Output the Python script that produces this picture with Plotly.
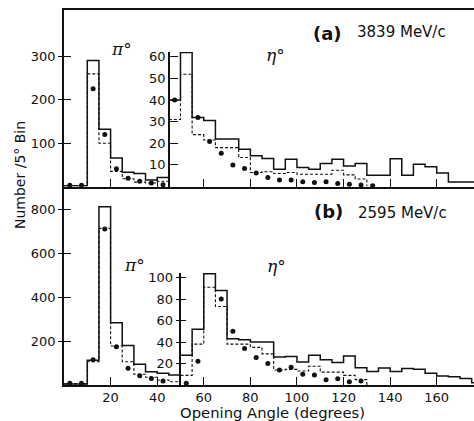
import plotly.graph_objects as go

BIN = 5  # degrees per bin

# ---------------- Panel (a): 3839 MeV/c ----------------
pi_a_bins = [0, 5, 10, 15, 20, 25, 30, 35, 40]
pi_a_solid = [2, 2, 291, 132, 66, 33, 30, 15, 21]
pi_a_dashed = [2, 2, 260, 100, 35, 18, 10, 8, 12]
pi_a_dots = [3, 3, 226, 120, 41, 19, 12, 8, 4]

eta_a_bins = [45, 50, 55, 60, 65, 70, 75, 80, 85, 90, 95, 100, 105, 110,
              115, 120, 125, 130, 135, 140, 145, 150, 155, 160, 165, 170, 175]
eta_a_solid = [40, 62, 32, 30.5, 22, 22, 17.3, 14.2, 13, 8, 12.6, 8.8, 8, 10.6,
               12.6, 9.5, 10.6, 5.2, 5.2, 12.9, 5.2, 10.3, 9.2, 6.2, 2.1, 2.1, 2.1]
eta_a_dash_bins = [45, 50, 55, 60, 65, 70, 75, 80, 85, 90, 95, 100, 105, 110, 115, 120, 125]
eta_a_dashed = [31, 52, 24, 21.5, 18, 18, 13.4, 6.5, 6.8, 6, 6.5, 5.7, 5.7, 5.7, 7.5, 5.4, 3.5]
eta_a_dot_bins = [45, 50, 55, 60, 65, 70, 75, 80, 85, 90, 95, 100, 105, 110, 115, 120, 125, 130]
eta_a_dots = [40, 72.5, 32, 20.8, 15.4, 10, 8.3, 6.2, 4.2, 3, 3, 2.2, 1.8, 2.2, 1.4, 1, 0.7, 0.3]

# ---------------- Panel (b): 2595 MeV/c ----------------
pi_b_bins = [0, 5, 10, 15, 20, 25, 30, 35, 40, 45]
pi_b_solid = [5, 5, 112, 810, 283, 179, 94, 60, 53, 45]
pi_b_dashed = [5, 5, 106, 712, 177, 106, 49, 35, 23, 15]
pi_b_dot_bins = [0, 5, 10, 15, 20, 25, 30, 35, 40]
pi_b_dots = [8, 8, 115, 709, 174, 76, 42, 30, 18]

eta_b_bins = [50, 55, 60, 65, 70, 75, 80, 85, 90, 95, 100, 105, 110, 115,
              120, 125, 130, 135, 140, 145, 150, 155, 160, 165, 170, 175]
eta_b_solid = [27.6, 51.8, 103.5, 88, 43, 42, 40, 40, 26, 26.5, 21.5, 27.6, 23.5, 21,
               27, 16, 12.5, 15.8, 12.6, 15.4, 14.6, 10.9, 8.4, 7.6, 6, 2]
eta_b_dash_bins = [50, 55, 60, 65, 70, 75, 80, 85, 90, 95, 100, 105, 110, 115, 120, 125]
eta_b_dashed = [9, 38, 91, 73, 38, 38, 35, 29, 14, 14.5, 13, 17.5, 12, 12, 9, 5]
eta_b_dots = [1.6, 22, 111, 80, 50, 34, 25.5, 20, 14, 16.5, 10, 9.3, 5, 5.9, 3, 3.7]

x_ticks = [20, 40, 60, 80, 100, 120, 140, 160]
ya_ticks = [100, 200, 300]
ya_inset_ticks = [10, 20, 30, 40, 50, 60]
yb_ticks = [200, 400, 600, 800]
yb_inset_ticks = [20, 40, 60, 80, 100]

# ---------------- geometry ----------------
W, H = 474, 421
ML, MR, MT, MB = 64, 0, 10, 36
PW, PH = W - ML - MR, H - MT - MB
XR = [0, 176]


def fx(p):
    return (p - ML) / PW


def fy(p):
    return (H - MB - p) / PH


split = fy(186.5)
FONT = "DejaVu Sans"
INK = "#111"


def step(bins, vals, close=False):
    xs = list(bins) + [bins[-1] + BIN]
    ys = list(vals) + [0 if close else vals[-1]]
    return xs, ys


def centers(bins):
    return [b + BIN / 2 for b in bins]


fig = go.Figure()


def add_hist(bins, vals, xa, ya, dashed=False, close=False):
    xs, ys = step(bins, vals, close)
    fig.add_trace(go.Scatter(
        x=xs, y=ys, xaxis=xa, yaxis=ya, mode="lines", line_shape="hv",
        line=dict(color=INK, width=1.1 if dashed else 1.5,
                  dash="3px,2px" if dashed else "solid"),
        showlegend=False, hoverinfo="skip", cliponaxis=False))


def add_dots(bins, vals, xa, ya):
    fig.add_trace(go.Scatter(
        x=centers(bins), y=vals, xaxis=xa, yaxis=ya, mode="markers",
        marker=dict(color=INK, size=5), showlegend=False, hoverinfo="skip",
        cliponaxis=False))


# panel a
add_hist(pi_a_bins, pi_a_solid, "x", "y")
add_hist(pi_a_bins, pi_a_dashed, "x", "y", dashed=True)
add_dots(pi_a_bins, pi_a_dots, "x", "y")
add_hist(eta_a_bins, eta_a_solid, "x", "y2")
add_hist(eta_a_dash_bins, eta_a_dashed, "x", "y2", dashed=True, close=True)
add_dots(eta_a_dot_bins, eta_a_dots, "x", "y2")
# panel b
add_hist(pi_b_bins, pi_b_solid, "x2", "y3")
add_hist(pi_b_bins, pi_b_dashed, "x2", "y3", dashed=True)
add_dots(pi_b_dot_bins, pi_b_dots, "x2", "y3")
add_hist(eta_b_bins, eta_b_solid, "x2", "y4")
add_hist(eta_b_dash_bins, eta_b_dashed, "x2", "y4", dashed=True, close=True)
add_dots(eta_b_dash_bins, eta_b_dots, "x2", "y4")

# empty traces registering the duplicate (cross-tick) axes
for xa, ya in [("x", "y5"), ("x2", "y6"), ("x2", "y7")]:
    fig.add_trace(go.Scatter(x=[], y=[], xaxis=xa, yaxis=ya, showlegend=False,
                             hoverinfo="skip"))

tickfont = dict(family=FONT, size=13, color=INK)
base = dict(showgrid=False, zeroline=False, linecolor=INK, linewidth=1.5,
            tickcolor=INK, tickwidth=1.3, tickfont=tickfont, tickmode="array")

ya_range = [0, (186.5 - MT) / 0.433]
ya2_range = [0, (186.5 - 52) / 2.16]
yb_range = [0, (H - MB - 186.5) / 0.22]
yb2_range = [0, 104.5]

fig.update_layout(
    width=W, height=H, margin=dict(l=ML, r=MR, t=MT, b=MB),
    paper_bgcolor="white", plot_bgcolor="rgba(0,0,0,0)",
    xaxis=dict(base, domain=[0, 1], range=XR, anchor="y", showline=True, mirror=True,
               ticks="inside", ticklen=8, tickvals=x_ticks, showticklabels=False),
    yaxis=dict(base, domain=[split, 1], range=ya_range, anchor="x", showline=True,
               ticks="outside", ticklen=4, tickvals=ya_ticks),
    yaxis5=dict(base, overlaying="y", range=ya_range, anchor="x", showline=False,
                ticks="inside", ticklen=7, tickvals=ya_ticks, showticklabels=False),
    yaxis2=dict(base, domain=[split, fy(52)], range=ya2_range, anchor="free",
                position=45 / XR[1], showline=True, ticks="inside", ticklen=8,
                tickvals=ya_inset_ticks),
    xaxis2=dict(base, domain=[0, 1], range=XR, anchor="y3", showline=True,
                ticks="inside", ticklen=8, tickvals=x_ticks),
    yaxis3=dict(base, domain=[0, split], range=yb_range, anchor="x2", showline=True,
                ticks="outside", ticklen=4, tickvals=yb_ticks),
    yaxis6=dict(base, overlaying="y3", range=yb_range, anchor="x2", showline=False,
                ticks="inside", ticklen=7, tickvals=yb_ticks, showticklabels=False),
    yaxis4=dict(base, domain=[0, (H - MB - 272.7) / PH], range=yb2_range, anchor="free",
                position=50 / XR[1], showline=True, ticks="outside", ticklen=4,
                tickvals=yb_inset_ticks),
    yaxis7=dict(base, overlaying="y4", range=yb2_range, anchor="free",
                position=50 / XR[1], showline=False, ticks="inside", ticklen=5,
                tickvals=yb_inset_ticks, showticklabels=False),
)

greek = dict(family="DejaVu Serif", size=17, color=INK)
ann = [
    dict(x=fx(121), y=fy(49), text="<i>π</i>°", font=greek),
    dict(x=fx(275), y=fy(55), text="<i>η</i>°", font=greek),
    dict(x=fx(134), y=fy(265), text="<i>π</i>°", font=greek),
    dict(x=fx(276), y=fy(266), text="<i>η</i>°", font=greek),
    dict(x=fx(327), y=fy(33), text="<b>(a)</b>", font=dict(family=FONT, size=18, color=INK)),
    dict(x=fx(355), y=fy(32), text="3839 MeV/c", xanchor="left",
         font=dict(family=FONT, size=15, color=INK)),
    dict(x=fx(328), y=fy(212), text="<b>(b)</b>", font=dict(family=FONT, size=18, color=INK)),
    dict(x=fx(356), y=fy(213), text="2595 MeV/c", xanchor="left",
         font=dict(family=FONT, size=15, color=INK)),
    dict(x=fx(20), y=fy(175), text="Number /5° Bin", textangle=-90,
         font=dict(family=FONT, size=14, color=INK)),
    dict(x=fx(272.5), y=fy(412), text="Opening Angle (degrees)",
         font=dict(family=FONT, size=14.8, color=INK)),
]
for a in ann:
    a.setdefault("xanchor", "center")
    a.update(xref="paper", yref="paper", yanchor="middle", showarrow=False)
fig.update_layout(annotations=ann)

fig.write_html("out.html")
